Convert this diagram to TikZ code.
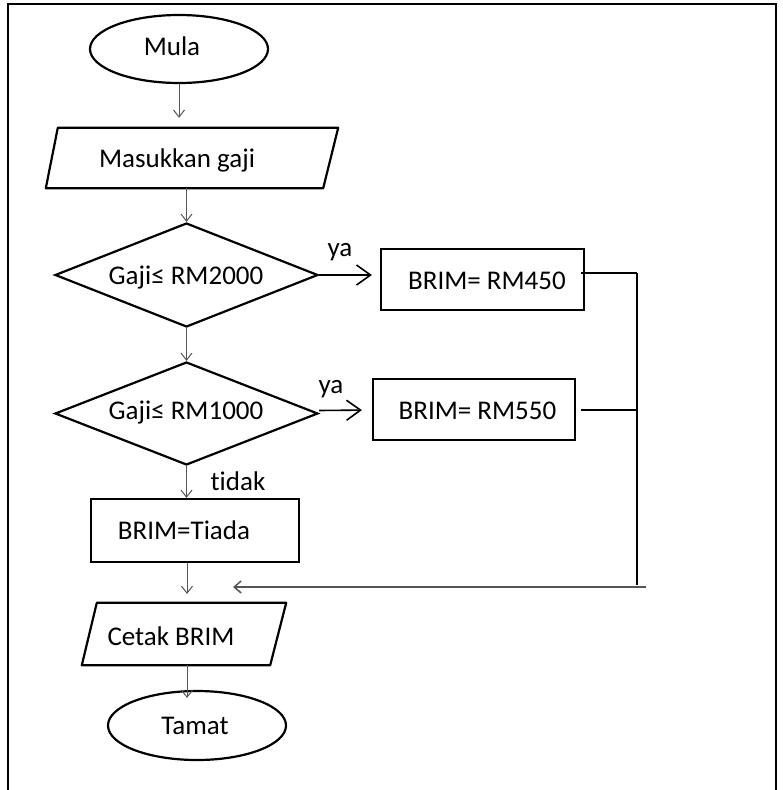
\documentclass[tikz,border=0pt]{standalone}
\usepackage{fontspec}
\setmainfont{Carlito}[Ligatures=NoCommon]
\usetikzlibrary{shapes.geometric,arrows.meta}
\definecolor{flowgray}{HTML}{555555}
\begin{document}
\begin{tikzpicture}[x=1pt,y=-1pt,
  every node/.style={font=\fontsize{27}{30}\selectfont, inner sep=0pt},
  outline/.style={draw=black, line width=2.2pt},
  terminal/.style={outline, ellipse},
  iobase/.style={rectangle, draw=none},
  decision/.style={outline, diamond},
  procbox/.style={outline, rectangle},
  flow/.style={draw=flowgray, line width=1pt, -{Straight Barb[length=7pt,width=11pt]}},
  yesarrow/.style={draw=black, line width=1.6pt, -{Straight Barb[length=14pt,width=20pt,line width=1.6pt]}},
  joinline/.style={draw=black, line width=1.5pt},
  txt/.style={}
]
\useasboundingbox (0,0) rectangle (783,790);
% frame
\draw[line width=2pt] (8,800) -- (8,4) -- (776,4) -- (776,800);

% shapes
\node[terminal, minimum width=178pt, minimum height=68pt] (mula) at (179,49) {};
\node[txt] (tmula) at (172,46) {Mula};

\node[iobase, minimum width=292pt, minimum height=60pt] (masuk) at (192,158) {};
\draw[outline, line join=round] ([xshift=12pt]masuk.north west) -- (masuk.north east)
  -- ([xshift=-15pt]masuk.south east) -- (masuk.south west) -- cycle;
\node[txt] (tmasuk) at (177,160) {Masukkan gaji};

\node[decision, minimum width=263pt, minimum height=104pt] (d1) at (186.5,275) {};
\node[txt] (td1) at (186,278) {Gaji≤ RM2000};

\node[decision, minimum width=263pt, minimum height=103pt] (d2) at (186.5,413.5) {};
\node[txt] (td2) at (186,413) {Gaji≤ RM1000};

\node[procbox, minimum width=203pt, minimum height=61pt] (b1) at (482.5,279.5) {};
\node[txt] (tb1) at (487,281) {BRIM= RM450};

\node[procbox, minimum width=202pt, minimum height=61pt] (b2) at (474,409.5) {};
\node[txt] (tb2) at (477.5,411) {BRIM= RM550};

\node[procbox, minimum width=208pt, minimum height=63pt] (b3) at (195,530.5) {};
\node[txt] (tb3) at (184,530) {BRIM=Tiada};

\node[iobase, minimum width=204pt, minimum height=62pt] (cetak) at (184,634) {};
\draw[outline, line join=round] ([xshift=15pt]cetak.north west) -- (cetak.north east)
  -- ([xshift=-16pt]cetak.south east) -- (cetak.south west) -- cycle;
\node[txt] (tcetak) at (171,636) {Cetak BRIM};

\node[terminal, minimum width=178pt, minimum height=69pt] (tamat) at (197,725.5) {};
\node[txt] (ttamat) at (195,726) {Tamat};

% labels
\node[txt] (ya1) at (340,252) {ya};
\node[txt] (ya2) at (331,389) {ya};
\node[txt] (tidak) at (238,481) {tidak};

% main flow arrows
\draw[flow, shorten >=10pt] (mula.south) -- (mula.south |- masuk.north);
\draw[flow] (masuk.south -| d1.north) -- (d1.north);
\draw[flow] (d1.south) -- (d2.north);
\draw[flow] (d2.south) -- (d2.south |- b3.north);
\coordinate (cetaktop) at (187,603);
\draw[flow, shorten >=9pt] (b3.south -| cetaktop) -- (cetaktop);
\coordinate (tamattip) at (187,698);
\draw[flow] (cetak.south -| tamattip) -- (tamattip);

% yes arrows
\draw[yesarrow, shorten >=8pt] (d1.east) -- (b1.west |- d1.east);
\draw[yesarrow, shorten >=10pt] (d2.east) ++(0,-3) -- (b2.west |- 0,410);

% return path
\coordinate (vtop) at (637,273);
\coordinate (vbot) at (637,585);
\coordinate (hend) at (646,587);
\coordinate (hfin) at (233,587);
\draw[joinline] (b1.east |- vtop) ++(-4,0) -- (vtop);
\draw[joinline, shorten <=5pt] (b2.east |- 0,410) -- (vtop |- 0,410);
\draw[joinline] (vtop) -- (vbot);
\draw[draw=flowgray, line width=1.5pt, -{Straight Barb[length=7pt,width=12pt]}] (hend) -- (hfin);
\end{tikzpicture}
\end{document}
